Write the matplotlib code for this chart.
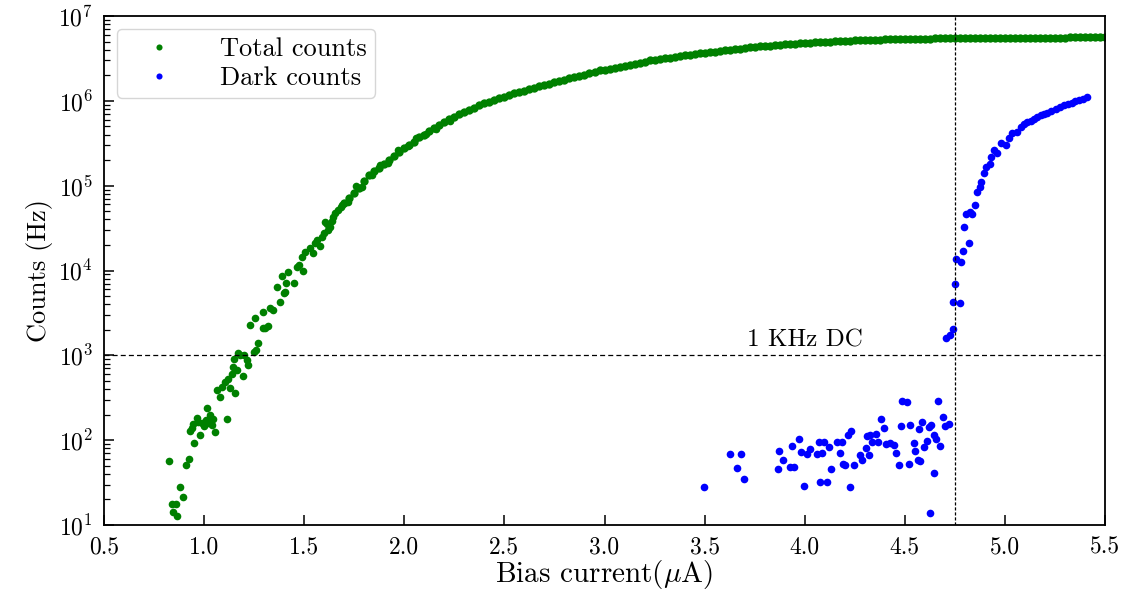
import numpy as np
import matplotlib
matplotlib.use('Agg')
import matplotlib.pyplot as plt

plt.rcParams['font.family'] = 'serif'
plt.rcParams['font.serif'] = ['cmr10', 'DejaVu Serif']
plt.rcParams['mathtext.fontset'] = 'cm'
plt.rcParams['axes.formatter.use_mathtext'] = True

# Total counts, low-bias part (noisy, few clicks)
total_low_x = [0.826, 0.838, 0.846, 0.860, 0.866, 0.880, 0.896, 0.910, 0.926, 0.930,
               0.940, 0.946, 0.950, 0.963, 0.970, 0.980, 0.988, 1.000, 1.010, 1.013,
               1.020, 1.030, 1.038, 1.045, 1.055, 1.063, 1.080, 1.090, 1.105, 1.116,
               1.120, 1.130, 1.140, 1.143, 1.150, 1.155, 1.163, 1.171, 1.180, 1.196,
               1.200, 1.213, 1.221, 1.230, 1.250, 1.255, 1.260, 1.271, 1.296, 1.296,
               1.305, 1.321, 1.330, 1.346, 1.363, 1.380, 1.388, 1.400, 1.405, 1.410,
               1.421, 1.450, 1.463, 1.476, 1.488, 1.496, 1.505, 1.529, 1.543, 1.555,
               1.565, 1.580, 1.588, 1.600, 1.605, 1.615, 1.621, 1.630, 1.640, 1.646,
               1.655, 1.671, 1.685, 1.690, 1.720, 1.760, 1.790, 1.840, 1.880, 1.920,
               1.970, 2.020, 2.060, 2.110, 2.160, 2.230]
total_low_y = [57, 17.7, 14.4, 17.7, 12.9, 27.8, 21.5, 51, 60, 129,
               140, 155, 92, 182, 165, 115, 158, 145, 173, 237,
               160, 200, 151, 180, 126, 390, 325, 420, 489, 180,
               520, 408, 600, 735, 900, 357, 671, 1056, 1000, 570,
               1020, 880, 770, 2280, 1100, 2730, 1155, 1385, 2080, 3270,
               2080, 2220, 3580, 3430, 6440, 4290, 8600, 5400, 5620, 7060,
               9680, 7060, 11100, 11600, 14500, 9950, 16700, 18300, 16200, 20900,
               23000, 19400, 25000, 28000, 37600, 35000, 30000, 32800, 38000, 43000,
               47000, 51600, 56000, 5.9e4, 6.4e4, 9.8e4, 9.6e4, 1.35e5, 1.75e5, 1.85e5,
               2.6e5, 2.9e5, 3.6e5, 4.1e5, 4.6e5, 5.8e5]

# Total counts, bias sweep above 1.7 uA
total_x = [1.700, 1.725, 1.750, 1.775, 1.800, 1.825, 1.850, 1.875, 1.900, 1.925,
           1.950, 1.975, 2.000, 2.025, 2.050, 2.075, 2.100, 2.125, 2.150, 2.175,
           2.200, 2.225, 2.250, 2.275, 2.300, 2.325, 2.350, 2.375, 2.400, 2.425,
           2.450, 2.475, 2.500, 2.525, 2.550, 2.575, 2.600, 2.625, 2.650, 2.675,
           2.700, 2.725, 2.750, 2.775, 2.800, 2.825, 2.850, 2.875, 2.900, 2.925,
           2.950, 2.975, 3.000, 3.025, 3.050, 3.075, 3.100, 3.125, 3.150, 3.175,
           3.200, 3.225, 3.250, 3.275, 3.300, 3.325, 3.350, 3.375, 3.400, 3.425,
           3.450, 3.475, 3.500, 3.525, 3.550, 3.575, 3.600, 3.625, 3.650, 3.675,
           3.700, 3.725, 3.750, 3.775, 3.800, 3.825, 3.850, 3.875, 3.900, 3.925,
           3.950, 3.975, 4.000, 4.025, 4.050, 4.075, 4.100, 4.125, 4.150, 4.175,
           4.200, 4.225, 4.250, 4.275, 4.300, 4.325, 4.350, 4.375, 4.400, 4.425,
           4.450, 4.475, 4.500, 4.525, 4.550, 4.575, 4.600, 4.625, 4.650, 4.675,
           4.700, 4.725, 4.750, 4.775, 4.800, 4.825, 4.850, 4.875, 4.900, 4.925,
           4.950, 4.975, 5.000, 5.025, 5.050, 5.075, 5.100, 5.125, 5.150, 5.175,
           5.200, 5.225, 5.250, 5.275, 5.300, 5.325, 5.350, 5.375, 5.400, 5.425,
           5.450, 5.475, 5.500]
total_y = [6.2e4, 7.1e4, 8.1e4, 9.5e4, 1.12e5, 1.32e5, 1.48e5, 1.62e5, 1.78e5, 2.00e5,
           2.24e5, 2.51e5, 2.75e5, 3.02e5, 3.31e5, 3.72e5, 3.98e5, 4.37e5, 4.79e5, 5.13e5,
           5.62e5, 6.03e5, 6.46e5, 6.92e5, 7.41e5, 7.76e5, 8.32e5, 8.91e5, 9.33e5, 9.77e5,
           1.02e6, 1.07e6, 1.12e6, 1.17e6, 1.23e6, 1.27e6, 1.32e6, 1.38e6, 1.43e6, 1.48e6,
           1.55e6, 1.60e6, 1.66e6, 1.72e6, 1.78e6, 1.84e6, 1.91e6, 1.97e6, 2.04e6, 2.11e6,
           2.19e6, 2.29e6, 2.34e6, 2.40e6, 2.45e6, 2.51e6, 2.60e6, 2.66e6, 2.72e6, 2.82e6,
           2.88e6, 3.02e6, 3.05e6, 3.13e6, 3.16e6, 3.24e6, 3.31e6, 3.39e6, 3.43e6, 3.51e6,
           3.55e6, 3.63e6, 3.67e6, 3.72e6, 3.80e6, 3.85e6, 3.94e6, 3.98e6, 4.07e6, 4.12e6,
           4.22e6, 4.27e6, 4.32e6, 4.37e6, 4.42e6, 4.47e6, 4.52e6, 4.57e6, 4.62e6, 4.68e6,
           4.73e6, 4.76e6, 4.79e6, 4.84e6, 4.90e6, 4.92e6, 4.95e6, 4.99e6, 5.01e6, 5.07e6,
           5.11e6, 5.13e6, 5.16e6, 5.19e6, 5.21e6, 5.24e6, 5.25e6, 5.27e6, 5.30e6, 5.32e6,
           5.33e6, 5.36e6, 5.37e6, 5.38e6, 5.39e6, 5.40e6, 5.41e6, 5.42e6, 5.43e6, 5.44e6,
           5.45e6, 5.46e6, 5.46e6, 5.47e6, 5.47e6, 5.48e6, 5.48e6, 5.49e6, 5.49e6, 5.50e6,
           5.50e6, 5.51e6, 5.51e6, 5.52e6, 5.52e6, 5.53e6, 5.53e6, 5.54e6, 5.54e6, 5.55e6,
           5.55e6, 5.56e6, 5.56e6, 5.57e6, 5.57e6, 5.58e6, 5.58e6, 5.59e6, 5.59e6, 5.60e6,
           5.60e6, 5.61e6, 5.61e6]

# Dark counts (laser blocked)
dark_x = [3.495, 3.628, 3.662, 3.682, 3.698, 3.865, 3.873, 3.892, 3.928, 3.937,
          3.948, 3.970, 3.983, 3.995, 4.012, 4.025, 4.062, 4.070, 4.075, 4.087,
          4.098, 4.112, 4.123, 4.132, 4.162, 4.175, 4.187, 4.191, 4.203, 4.215,
          4.225, 4.233, 4.245, 4.278, 4.287, 4.308, 4.312, 4.323, 4.328, 4.336,
          4.358, 4.365, 4.383, 4.395, 4.408, 4.428, 4.445, 4.456, 4.473, 4.481,
          4.486, 4.511, 4.520, 4.528, 4.545, 4.553, 4.565, 4.570, 4.575, 4.586,
          4.594, 4.611, 4.620, 4.624, 4.633, 4.645, 4.648, 4.658, 4.665, 4.675,
          4.691, 4.703, 4.720,
          4.708, 4.725, 4.741, 4.741, 4.753, 4.758, 4.778, 4.781, 4.791, 4.798,
          4.808, 4.820, 4.824, 4.836, 4.849, 4.861, 4.874, 4.881, 4.894, 4.908,
          4.925, 4.931, 4.944, 4.961, 4.981, 5.003, 5.019, 5.036, 5.061, 5.078,
          5.095, 5.111, 5.128, 5.144, 5.160, 5.178, 5.195, 5.211, 5.232, 5.253,
          5.273, 5.294, 5.315, 5.336, 5.352, 5.369, 5.390, 5.408]
dark_y = [28, 69, 47, 69, 35, 46, 74, 58, 48, 85,
          48, 102, 72, 29, 68, 78, 69, 94, 32, 71,
          94, 32, 84, 46, 94, 71, 94, 52, 51, 115,
          28, 129, 51, 67, 59, 80, 112, 66, 115, 96,
          118, 96, 177, 141, 90, 93, 88, 70, 51, 147,
          292, 284, 52, 151, 93, 75, 59, 135, 57, 162,
          82, 98, 144, 14, 150, 115, 41, 102, 290, 86,
          186, 147, 155,
          1590, 1740, 2030, 4290, 6930, 1.36e4, 4170, 1.25e4, 1.71e4, 3.28e4,
          4.64e4, 2.09e4, 4.85e4, 4.64e4, 5.92e4, 8.36e4, 9.57e4, 1.11e5, 1.42e5, 1.67e5,
          1.80e5, 2.19e5, 2.63e5, 2.40e5, 3.15e5, 3.01e5, 3.61e5, 4.14e5, 4.32e5, 4.96e5,
          5.30e5, 5.68e5, 5.85e5, 6.06e5, 6.40e5, 6.81e5, 7.00e5, 7.25e5, 7.60e5, 7.94e5,
          8.40e5, 8.93e5, 9.20e5, 9.51e5, 9.90e5, 1.02e6, 1.06e6, 1.10e6]

dc_level = 1e3       # 1 kHz dark-count threshold
bias_at_dc = 4.75    # bias where dark counts reach 1 kHz


fig = plt.figure(figsize=(11.33, 5.97), dpi=100)
ax = fig.add_axes([0.0918, 0.1206, 0.8835, 0.8526])

ax.plot(total_low_x, total_low_y, 'o', color='green', ms=5.5, mew=0, label='Total counts')
ax.plot(total_x, total_y, 'o', color='green', ms=6, mew=0)
ax.plot(dark_x, dark_y, 'o', color='blue', ms=5.5, mew=0, label='Dark counts')

ax.axhline(dc_level, color='black', ls='--', lw=0.9, dashes=(4, 2.5))
ax.axvline(bias_at_dc, color='black', ls='--', lw=0.9, dashes=(2.5, 1.5))
ax.text(4.0, dc_level * 1.12, '1 KHz DC', ha='center', va='bottom', fontsize=18)

ax.set_yscale('log')
ax.set_xlim(0.5, 5.5)
ax.set_ylim(10, 1e7)
ax.set_xticks(np.arange(0.5, 5.51, 0.5))
ax.set_xticklabels([f'{v:.1f}' for v in np.arange(0.5, 5.51, 0.5)])
ax.minorticks_off()
ax.yaxis.set_minor_locator(matplotlib.ticker.LogLocator(base=10, subs=np.arange(2, 10)))
ax.yaxis.set_minor_formatter(matplotlib.ticker.NullFormatter())

ax.tick_params(which='both', direction='in', top=False, right=False, labelsize=17)
ax.tick_params(axis='x', which='major', length=7, width=1.1, pad=8)
ax.tick_params(axis='y', which='major', length=7, width=1.1, pad=8)
ax.tick_params(axis='y', which='minor', length=4, width=0.9)
for sp in ax.spines.values():
    sp.set_linewidth(1.3)

ax.set_xlabel(r'Bias current($\mu$A)', fontsize=21, labelpad=0)
ax.set_ylabel('Counts (Hz)', fontsize=19, labelpad=4)

ax.legend(loc='upper left', fontsize=19, handlelength=2.6, handletextpad=1.0,
          markerscale=0.8, borderpad=0.3, labelspacing=0.2)

plt.savefig('out.png', dpi=100, facecolor='white')
